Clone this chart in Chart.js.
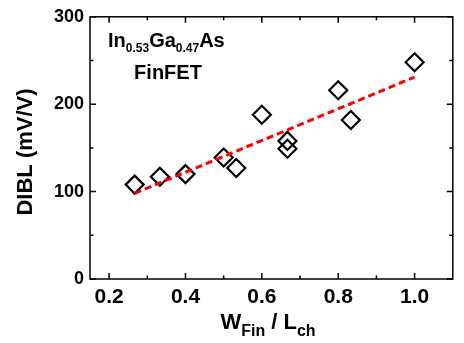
<!DOCTYPE html>
<html>
<head>
<meta charset="utf-8">
<script src="https://cdn.jsdelivr.net/npm/chart.js@4.4.0/dist/chart.umd.min.js"></script>
<style>
  html, body { margin: 0; padding: 0; background: #fff; }
  #wrap { width: 464px; height: 343px; }
</style>
</head>
<body>
<div id="wrap"><canvas id="dibl" width="464" height="343"></canvas></div>
<script>
// W_Fin / L_ch vs DIBL, one point per device
const ratio = [0.267, 0.333, 0.4, 0.5, 0.533, 0.6, 0.667, 0.667, 0.8, 0.833, 1.0];
const dibl = [108, 117, 120, 139, 127, 188, 158, 149, 216, 182, 248];

// dashed linear fit, endpoints
const fitX = [0.267, 1.0];
const fitY = [98, 231];

const xTicks = [0.2, 0.4, 0.6, 0.8, 1.0];
const xMinor = [0.3, 0.5, 0.7, 0.9];
const yTicks = [0, 100, 200, 300];
const yMinor = [50, 150, 250];

const FONT = "'Liberation Sans', Arial, sans-serif";

// draws a run of [text, size, drop] pieces (used for subscripts)
function drawRuns(ctx, parts, x, baseline, align) {
    let total = 0;
    parts.forEach(p => {
        ctx.font = `bold ${p[1]}px ${FONT}`;
        total += ctx.measureText(p[0]).width;
    });
    let cx = align === 'center' ? x - total / 2 : x;
    parts.forEach(p => {
        ctx.font = `bold ${p[1]}px ${FONT}`;
        ctx.fillText(p[0], cx, baseline + p[2]);
        cx += ctx.measureText(p[0]).width;
    });
}

// box round the plot with inward ticks on all four sides
const framePlugin = {
    id: 'frame',
    afterDatasetsDraw(chart) {
        const { ctx, chartArea: a, scales: { x, y } } = chart;
        ctx.save();
        ctx.strokeStyle = '#000';
        ctx.lineWidth = 1.5;
        ctx.strokeRect(a.left, a.top, a.right - a.left, a.bottom - a.top);
        ctx.beginPath();
        const xt = (vals, len) => vals.forEach(v => {
            const px = x.getPixelForValue(v);
            ctx.moveTo(px, a.bottom); ctx.lineTo(px, a.bottom - len);
            ctx.moveTo(px, a.top); ctx.lineTo(px, a.top + len);
        });
        const yt = (vals, len) => vals.forEach(v => {
            const py = y.getPixelForValue(v);
            ctx.moveTo(a.left, py); ctx.lineTo(a.left + len, py);
            ctx.moveTo(a.right, py); ctx.lineTo(a.right - len, py);
        });
        xt(xTicks, 6); xt(xMinor, 3.5);
        yt(yTicks, 6); yt(yMinor, 3.5);
        ctx.stroke();
        ctx.restore();
    }
};

// axis titles and the material label
const textPlugin = {
    id: 'labels',
    afterDraw(chart) {
        const { ctx } = chart;
        ctx.save();
        ctx.fillStyle = '#000';
        ctx.textBaseline = 'alphabetic';
        ctx.textAlign = 'left';

        drawRuns(ctx, [['In', 20, 0], ['0.53', 12, 5], ['Ga', 20, 0], ['0.47', 12, 5], ['As', 20, 0]], 108, 47, 'left');
        drawRuns(ctx, [['FinFET', 20, 0]], 168, 79, 'center');

        drawRuns(ctx, [['W', 22, 0], ['Fin', 16, 7], [' / L', 22, 0], ['ch', 16, 7]], 268, 329, 'center');

        ctx.translate(26, 152);
        ctx.rotate(-Math.PI / 2);
        ctx.textAlign = 'center';
        ctx.textBaseline = 'middle';
        ctx.font = `bold 22px ${FONT}`;
        ctx.fillText('DIBL (mV/V)', 0, 0);
        ctx.restore();
    }
};

new Chart(document.getElementById('dibl'), {
    type: 'scatter',
    data: {
        datasets: [
            {
                label: 'fit',
                data: fitX.map((v, i) => ({ x: v, y: fitY[i] })),
                showLine: true,
                borderColor: '#ff0000',
                borderWidth: 3,
                borderDash: [7, 4],
                pointRadius: 0,
                order: 0
            },
            {
                label: 'DIBL',
                data: ratio.map((v, i) => ({ x: v, y: dibl[i] })),
                pointStyle: 'rectRot',
                pointRadius: 9,
                borderColor: '#000',
                borderWidth: 2.2,
                backgroundColor: 'rgba(0,0,0,0)',
                order: 1
            }
        ]
    },
    options: {
        responsive: false,
        animation: false,
        devicePixelRatio: 1,
        layout: { padding: { top: 11, right: 10, left: 0, bottom: 0 } },
        plugins: { legend: { display: false }, tooltip: { enabled: false } },
        scales: {
            x: {
                type: 'linear',
                min: 0.15,
                max: 1.1,
                grid: { display: false, drawTicks: false },
                border: { display: false },
                afterBuildTicks: s => { s.ticks = xTicks.map(v => ({ value: v })); },
                afterFit: s => { s.height = 64; },
                ticks: {
                    padding: 6,
                    color: '#000',
                    maxRotation: 0,
                    font: { family: FONT, size: 21, weight: 'bold' },
                    callback: v => v.toFixed(1)
                }
            },
            y: {
                type: 'linear',
                min: 0,
                max: 300,
                grid: { display: false, drawTicks: false },
                border: { display: false },
                afterBuildTicks: s => { s.ticks = yTicks.map(v => ({ value: v })); },
                afterFit: s => { s.width = 90; },
                ticks: {
                    padding: 6,
                    color: '#000',
                    font: { family: FONT, size: 18, weight: 'bold' },
                    callback: v => String(v)
                }
            }
        }
    },
    plugins: [framePlugin, textPlugin]
});
</script>
</body>
</html>
